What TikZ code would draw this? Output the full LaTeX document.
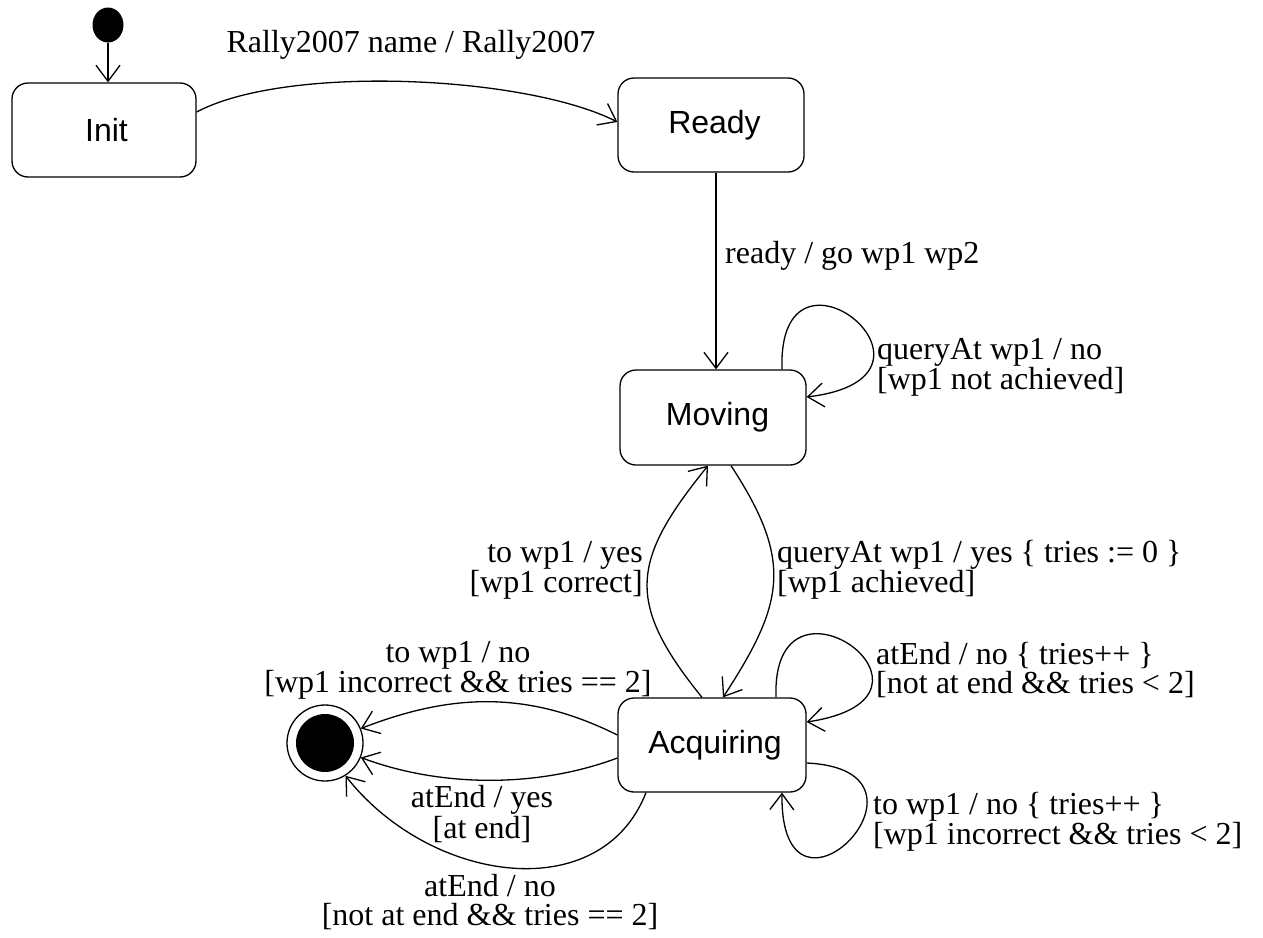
\documentclass[tikz,border=0pt]{standalone}
\usepackage{fontspec}
\setmainfont{Liberation Serif}
\setsansfont{Liberation Sans}
\usetikzlibrary{arrows.meta,shapes.geometric}
\begin{document}
\begin{tikzpicture}[x=1pt,y=1pt,
  every node/.style={inner sep=0pt},
  state/.style={draw, line width=1.3pt, rounded corners=16pt, font=\sffamily\fontsize{32}{32}\selectfont},
  lbl/.style={font=\fontsize{32}{29}\selectfont, align=#1},
  lbl/.default=left,
  tr/.style={line width=1.3pt, -{Straight Barb[length=16pt,width=24pt,line width=1.3pt]}}
]
\fill[white] (0,0) rectangle (1263,-937);
\useasboundingbox (0,0) rectangle (1263,-937);

% states
\node[ellipse, fill=black, minimum width=31pt, minimum height=35pt] (start) at (108,-25) {};
\node[state, minimum width=184pt, minimum height=94pt] (init) at (104,-130) {\hspace*{5pt}Init};
\node[state, minimum width=186pt, minimum height=94pt] (ready) at (711,-125) {\hspace*{7pt}Ready};
\node[state, minimum width=186pt, minimum height=95pt] (moving) at (713,-417.5) {\hspace*{9pt}Moving};
\node[state, minimum width=188pt, minimum height=94pt] (acq) at (712,-745) {\hspace*{6pt}Acquiring};
\node[circle, draw, line width=1.3pt, minimum size=76pt] (final) at (325,-743) {};
\node[circle, fill=black, minimum size=58pt] (finalin) at (final) {};

% transitions
\draw[tr] (start) -- ([xshift=4pt]init.north);
\draw[tr] ([yshift=18pt]init.east) to[out=28,in=153,looseness=0.62] ([yshift=3pt]ready.west);
\draw[tr] ([xshift=5pt]ready.south) -- ([xshift=3pt]moving.north);
\draw[tr] ([xshift=69pt]moving.north) .. controls +(-5,150) and +(165,20) .. ([yshift=20.5pt]moving.east);
\draw[tr] ([xshift=18pt]moving.south) .. controls +(62,-95) and +(62,95) .. ([xshift=11pt]acq.north);
\draw[tr] ([xshift=-10pt]acq.north) .. controls +(-77,95) and +(-77,-95) .. ([xshift=-5pt]moving.south);
\draw[tr] ([xshift=64pt]acq.north) .. controls +(-5,145) and +(165,25) .. ([yshift=23pt]acq.east);
\draw[tr] ([yshift=-18pt]acq.east) .. controls +(150,-7) and +(-2,-158) .. ([xshift=70pt]acq.south);
\draw[tr] ([yshift=10pt]acq.west) .. controls +(-90,45) and +(90,35) .. (final.22);
\draw[tr] ([yshift=-13pt]acq.west) .. controls +(-80,-30) and +(80,-30) .. (final.-22);
\draw[tr] ([xshift=-66pt]acq.south) .. controls +(-45,-115) and +(85,-108) .. (final.-58);

% labels
\node[lbl=center] (l1) at (411,-45) {Rally2007 name / Rally2007};
\node[lbl, anchor=west] (l2) at (725,-256) {ready / go wp1 wp2};
\node[lbl, anchor=west] (l3) at (877,-367) {queryAt wp1 / no\\{}[wp1 not achieved]};
\node[lbl, anchor=west] (l4) at (777,-570) {queryAt wp1 / yes \{ tries := 0 \}\\{}[wp1 achieved]};
\node[lbl=right, anchor=east] (l5) at (643,-570) {to wp1 / yes\\{}[wp1 correct]};
\node[lbl=center] (l6) at (458,-670) {to wp1 / no\\{}[wp1 incorrect \&\& tries == 2]};
\node[lbl, anchor=west] (l7) at (876,-670) {atEnd / no \{ tries++ \}\\{}[not at end \&\& tries < 2]};
\node[lbl, anchor=west] (l8) at (873,-822) {to wp1 / no \{ tries++ \}\\{}[wp1 incorrect \&\& tries < 2]};
\node[lbl=center] (l9) at (482,-814) {atEnd / yes\\{}[at end]};
\node[lbl=center] (l10) at (490,-902) {atEnd / no\\{}[not at end \&\& tries == 2]};
\end{tikzpicture}
\end{document}
